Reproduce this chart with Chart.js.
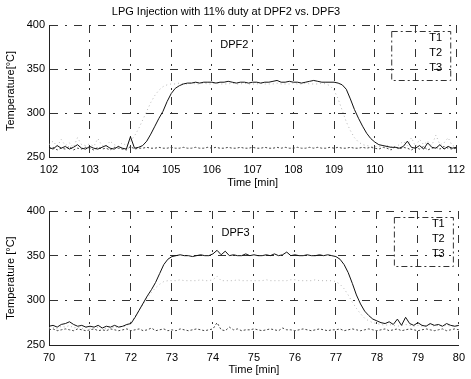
<!DOCTYPE html>
<html>
<head>
<meta charset="utf-8">
<script src="https://cdn.jsdelivr.net/npm/chart.js@4.4.1/dist/chart.umd.min.js"></script>
<style>
  html, body { margin: 0; padding: 0; background: #fff; }
  #wrap { position: relative; width: 471px; height: 379px; }
  .box { position: absolute; left: 0; width: 471px; }
  #boxTop { top: 0; height: 190px; }
  #boxBottom { top: 190px; height: 189px; }
</style>
</head>
<body>
<div id="wrap">
  <div class="box" id="boxTop"><canvas id="chartTop"></canvas></div>
  <div class="box" id="boxBottom"><canvas id="chartBottom"></canvas></div>
</div>
<script>
const seriesNames = ["T1", "T2", "T3"];
const yTicks = [250, 300, 350, 400];
const sampleStep = 0.1;

// DPF2, 102 .. 112 min
const dpf2Start = 102;
const dpf2T1 = [
  261, 259, 263, 260, 262, 259, 261, 264, 260, 259,
  262, 260, 259, 261, 263, 260, 259, 262, 260, 259,
  273, 260, 261, 263, 268, 276, 285, 294, 302, 313,
  322, 328, 331, 333, 334, 334, 335, 334, 335, 335,
  335, 334, 335, 335, 336, 335, 334, 335, 335, 334,
  335, 335, 334, 335, 335, 336, 337, 335, 335, 336,
  335, 335, 334, 335, 336, 337, 336, 335, 335, 335,
  335, 334, 332, 327, 316, 304, 294, 285, 277, 271,
  267, 264, 263, 262, 261, 261, 260, 262, 268, 261,
  260, 263, 259, 266, 261, 260, 264, 259, 262, 260, 261
];
const dpf2T2 = [
  264, 268, 262, 270, 263, 266, 261, 272, 264, 263,
  265, 262, 271, 263, 262, 268, 264, 262, 266, 263,
  268, 274, 282, 292, 302, 312, 320, 326, 330, 332,
  333, 333, 334, 333, 333, 334, 333, 333, 334, 333,
  333, 334, 333, 333, 333, 334, 333, 333, 334, 333,
  333, 333, 334, 333, 333, 333, 334, 333, 333, 333,
  334, 333, 333, 334, 333, 333, 333, 334, 333, 331,
  326, 316, 303, 290, 280, 272, 267, 264, 263, 262,
  262, 262, 261, 263, 262, 261, 264, 268, 263, 272,
  262, 270, 264, 268, 263, 275, 264, 266, 272, 263, 262
];
const dpf2T3 = [
  259, 261, 258, 260, 259, 262, 258, 260, 259, 261,
  260, 258, 261, 259, 260, 258, 261, 260, 259, 258,
  262, 259, 260, 260, 261, 260, 260, 261, 260, 260,
  261, 260, 260, 261, 260, 260, 261, 260, 260, 261,
  260, 261, 260, 260, 261, 260, 260, 261, 260, 260,
  261, 260, 260, 261, 260, 260, 261, 260, 261, 260,
  260, 261, 260, 260, 261, 260, 261, 260, 260, 261,
  260, 261, 260, 260, 261, 260, 260, 261, 260, 261,
  260, 259, 261, 260, 258, 262, 259, 261, 260, 258,
  261, 259, 262, 258, 260, 261, 259, 262, 260, 259, 260
];

// DPF3, 70 .. 80 min
const dpf3Start = 70;
const dpf3T1 = [
  271, 272, 270, 273, 274, 276, 273, 271, 272, 270,
  271, 270, 272, 269, 271, 270, 272, 270, 271, 273,
  274, 281, 289, 297, 305, 312, 320, 330, 340, 346,
  349, 350, 351, 350, 350, 349, 350, 351, 350, 350,
  352, 356, 351, 355, 350, 351, 350, 350, 352, 350,
  351, 350, 350, 351, 350, 352, 350, 351, 354, 350,
  351, 350, 350, 351, 350, 350, 351, 350, 351, 350,
  349, 346, 340, 331, 319, 306, 296, 288, 283, 279,
  277, 275, 274, 276, 273, 279, 272, 281, 274, 272,
  275, 272, 271, 274, 272, 273, 271, 274, 272, 271, 272
];
const dpf3T2 = [
  269, 270, 268, 271, 270, 272, 269, 270, 268, 270,
  269, 268, 270, 269, 268, 270, 269, 271, 270, 272,
  276, 282, 289, 296, 303, 309, 314, 318, 321, 322,
  322, 322, 323, 322, 322, 322, 322, 323, 322, 322,
  323, 327, 322, 322, 322, 322, 323, 322, 322, 322,
  322, 322, 322, 323, 322, 322, 322, 322, 322, 323,
  323, 322, 322, 322, 322, 323, 322, 322, 322, 322,
  321, 318, 313, 306, 298, 291, 285, 280, 277, 275,
  274, 273, 272, 273, 272, 271, 272, 273, 272, 271,
  272, 271, 272, 273, 271, 272, 271, 272, 271, 272, 271
];
const dpf3T3 = [
  267, 268, 266, 267, 268, 267, 266, 268, 267, 266,
  267, 268, 266, 267, 266, 268, 267, 266, 267, 268,
  266, 267, 268, 266, 267, 269, 266, 267, 268, 266,
  267, 266, 268, 267, 266, 267, 268, 267, 266, 267,
  268, 275, 267, 266, 270, 267, 268, 266, 267, 267,
  268, 267, 266, 267, 268, 267, 266, 269, 267, 267,
  266, 267, 268, 267, 266, 267, 268, 267, 266, 267,
  267, 268, 266, 267, 268, 267, 266, 267, 268, 267,
  266, 267, 268, 266, 267, 268, 266, 267, 268, 267,
  266, 267, 268, 267, 266, 267, 268, 266, 267, 268, 267
];

const FONT = '"Liberation Sans", Arial, sans-serif';
Chart.defaults.font.family = FONT;
Chart.defaults.font.size = 11;
Chart.defaults.color = "#000";

function toPoints(start, values) {
  return values.map((v, i) => ({ x: +(start + i * sampleStep).toFixed(1), y: v }));
}

// title, DPFx note and the little legend box drawn inside the axes
const decorPlugin = {
  id: "decor",
  afterDraw(chart, args, opts) {
    const ctx = chart.ctx;
    const area = chart.chartArea;
    const xs = chart.scales.x, ys = chart.scales.y;
    ctx.save();
    ctx.fillStyle = "#000";
    ctx.font = "11px " + FONT;
    ctx.textBaseline = "middle";
    if (opts.title) {
      ctx.textAlign = "center";
      ctx.fillText(opts.title, opts.titleX, opts.titleY);
    }
    ctx.textAlign = "center";
    ctx.fillText(opts.note, xs.getPixelForValue(opts.noteX), ys.getPixelForValue(opts.noteY));

    const bx = area.right - 65, by = area.top + 6;
    ctx.strokeStyle = "#333";
    ctx.lineWidth = 1;
    ctx.setLineDash([6, 3, 2, 3]);
    ctx.strokeRect(bx + 0.5, by + 0.5, 59, 49);
    ctx.setLineDash([]);
    ctx.textAlign = "left";
    chart.data.datasets.forEach((ds, i) => {
      ctx.fillText(ds.label, area.right - 27, by + 7 + i * 15);
    });
    ctx.restore();
  }
};

function buildChart(canvasId, start, t1, t2, t3, cfg) {
  const ctx = document.getElementById(canvasId).getContext("2d");
  return new Chart(ctx, {
    type: "line",
    data: {
      datasets: [
        { label: seriesNames[0], data: toPoints(start, t1), borderColor: "#111", borderWidth: 1 },
        { label: seriesNames[1], data: toPoints(start, t2), borderColor: "#b5b5b5", borderWidth: 1, borderDash: [1, 3] },
        { label: seriesNames[2], data: toPoints(start, t3), borderColor: "#444", borderWidth: 1, borderDash: [2, 2] }
      ]
    },
    options: {
      responsive: true,
      maintainAspectRatio: false,
      animation: false,
      elements: { point: { radius: 0 }, line: { tension: 0 } },
      layout: { padding: { top: cfg.padTop, right: 10, bottom: 0, left: 0 } },
      plugins: {
        legend: { display: false },
        tooltip: { enabled: false },
        decor: cfg.decor
      },
      scales: {
        x: {
          type: "linear",
          min: start,
          max: start + 10,
          afterFit: (s) => { s.height = cfg.xHeight; },
          ticks: { stepSize: 1, padding: 6, maxRotation: 0 },
          grid: { color: "#333", drawTicks: false },
          border: { display: true, color: "#222", dash: [8, 7, 2, 7] },
          title: { display: true, text: "Time [min]", padding: { top: 0, bottom: cfg.xTitlePad } }
        },
        y: {
          min: yTicks[0],
          max: yTicks[yTicks.length - 1],
          afterFit: (s) => { s.width = 49; },
          afterBuildTicks: (s) => { s.ticks = yTicks.map(v => ({ value: v })); },
          ticks: { padding: 4 },
          grid: { color: "#333", drawTicks: false },
          border: { display: true, color: "#222", dash: [8, 7, 2, 7] },
          title: { display: true, text: cfg.yTitle, padding: { top: 4, bottom: 0 } }
        }
      }
    },
    plugins: [decorPlugin]
  });
}

buildChart("chartTop", dpf2Start, dpf2T1, dpf2T2, dpf2T3, {
  padTop: 25,
  xHeight: 33,
  xTitlePad: 0,
  yTitle: "Temperature[°C]",
  decor: {
    title: "LPG Injection with 11% duty at DPF2 vs. DPF3",
    titleX: 226, titleY: 12,
    note: "DPF2", noteX: 106.55, noteY: 377
  }
});

buildChart("chartBottom", dpf3Start, dpf3T1, dpf3T2, dpf3T3, {
  padTop: 21,
  xHeight: 34,
  xTitlePad: 2,
  yTitle: "Temperature [°C]",
  decor: {
    note: "DPF3", noteX: 74.55, noteY: 375
  }
});
</script>
</body>
</html>
